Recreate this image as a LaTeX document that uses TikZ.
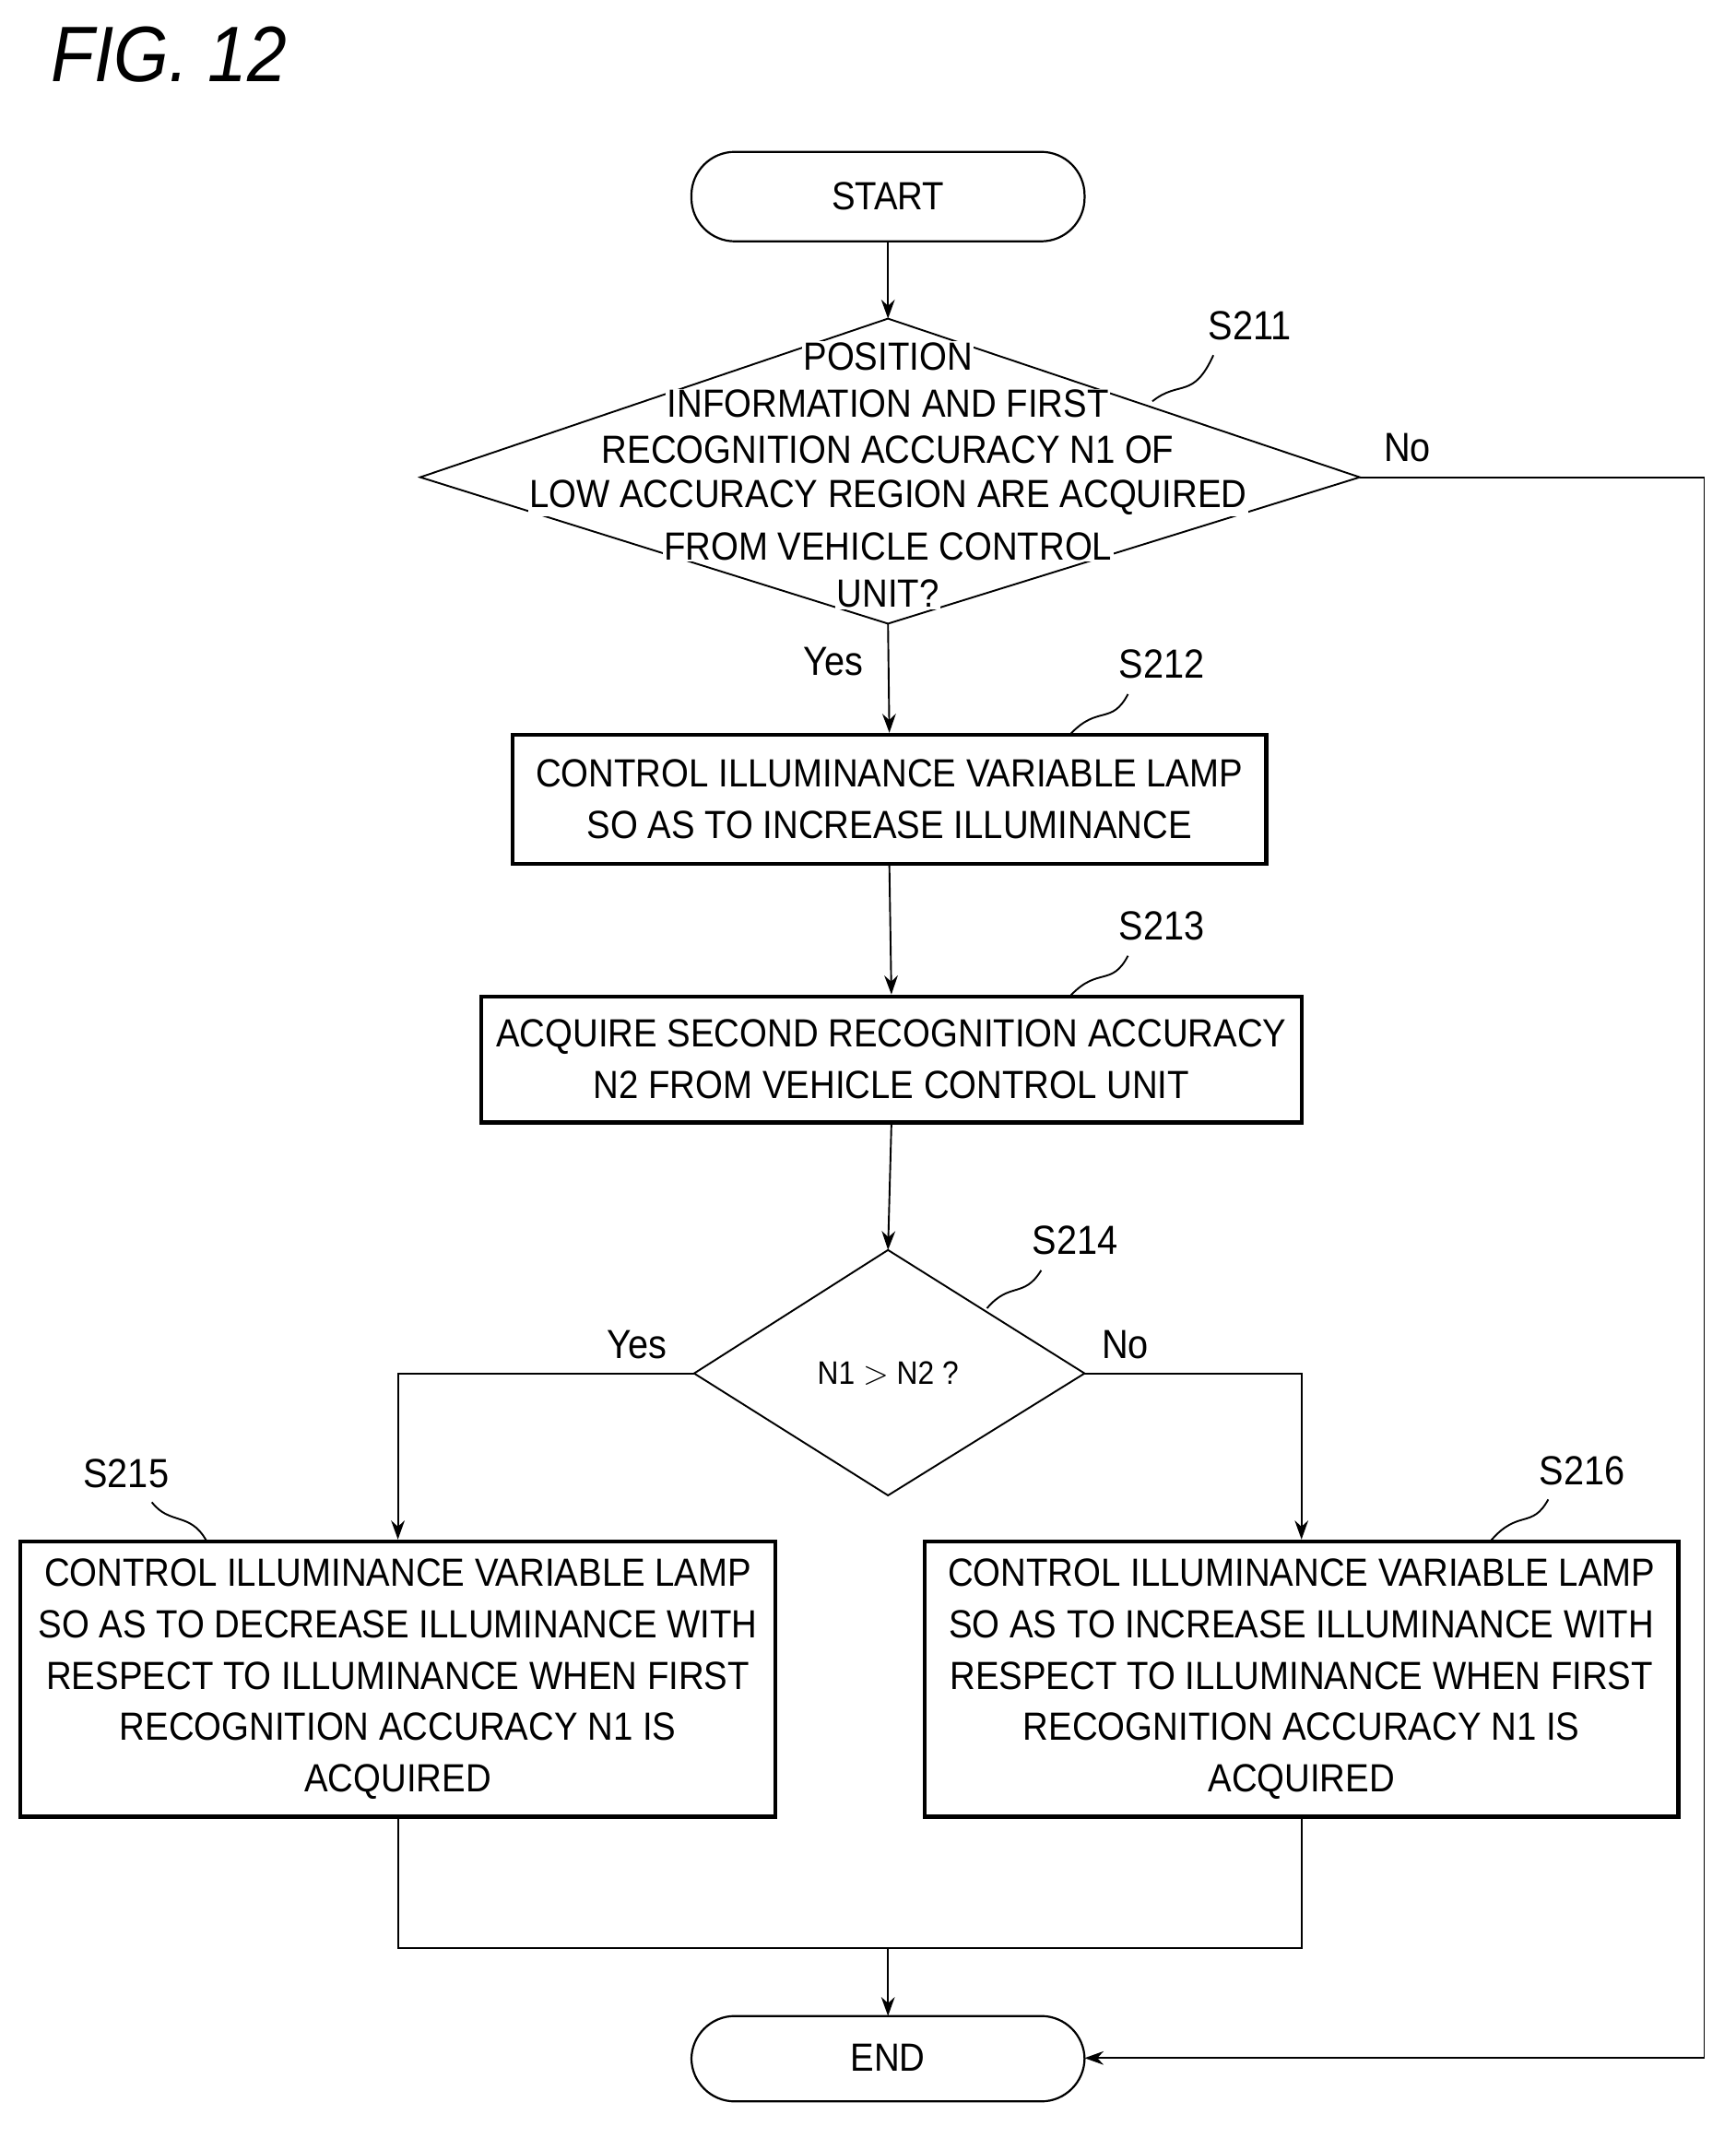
\documentclass[tikz,border=0pt]{standalone}
\usepackage{fontspec}
\setmainfont{Liberation Sans}[FakeStretch=0.9]
\usetikzlibrary{shapes.geometric,arrows.meta}
\begin{document}
\begin{tikzpicture}[x=1pt,y=-1pt,
  txt/.style={font=\fontsize{29}{38}\selectfont, align=center},
  box/.style={draw, line width=3pt, inner sep=0pt},
  term/.style={draw, line width=1.5pt, rounded corners=32pt},
  ln/.style={line width=1.3pt},
  arr/.style={ln,-{Stealth[length=14pt,width=10pt]}},
  lab/.style={font=\fontsize{30}{36}\selectfont}]
\useasboundingbox (0,0) rectangle (1280,1577);
\node[font=\fontsize{58}{66}\selectfont\itshape, anchor=west] (fig) at (34,40) {FIG. 12};
% START
\draw[term] (510,112) rectangle (800,178);
\node[txt] (start) at (655,145) {START};
\coordinate (startb) at (655,178);
% diamond 1
\coordinate (d1t) at (655,235); \coordinate (d1b) at (655,460);
\coordinate (d1l) at (310,352); \coordinate (d1r) at (1003,352);
\draw[ln] (d1t)--(d1r)--(d1b)--(d1l)--cycle;
\foreach \t/\y in {POSITION/263,INFORMATION AND FIRST/298,RECOGNITION ACCURACY N1 OF/332,LOW ACCURACY REGION ARE ACQUIRED/367,FROM VEHICLE CONTROL/403,UNIT?/438}
  \node[txt, fill=white, inner sep=1pt] at (655,\y) {\t};
\node[lab] (l211) at (922,240) {S211};
\draw[ln] (850,296) .. controls (870,280) and (880,295) .. (895,262);
\draw[arr] (startb)--(d1t);
% S212
\node[box, minimum width=556pt, minimum height=95pt, txt] (s212) at (656,589.5) {CONTROL ILLUMINANCE VARIABLE LAMP\\SO AS TO INCREASE ILLUMINANCE};
\node[lab] (l212) at (857,490) {S212};
\draw[ln] (790,541) .. controls (810,520) and (820,535) .. (832,512);
\draw[arr] (d1b)--(s212.north);
\node[lab] at (615,488) {Yes};
% S213
\node[box, minimum width=605pt, minimum height=93pt, txt] (s213) at (657.5,781.5) {ACQUIRE SECOND RECOGNITION ACCURACY\\N2 FROM VEHICLE CONTROL UNIT};
\node[lab] (l213) at (857,683) {S213};
\draw[ln] (790,734) .. controls (810,713) and (820,728) .. (832,705);
\draw[arr] (s212.south)--(s213.north);
% diamond 2
\coordinate (d2t) at (655,922); \coordinate (d2b) at (655,1103);
\coordinate (d2l) at (512,1013); \coordinate (d2r) at (800,1013);
\draw[ln] (d2t)--(d2r)--(d2b)--(d2l)--cycle;
\node[font=\fontsize{24}{30}\selectfont] (n12) at (655,1013) {N1 $>$ N2 ?};
\node[lab] (l214) at (793,915) {S214};
\draw[ln] (728,965) .. controls (745,945) and (755,958) .. (768,937);
\draw[arr] (s213.south)--(d2t);
% S215 / S216
\node[box, minimum width=557pt, minimum height=203pt, txt] (s215) at (293.5,1238.5) {CONTROL ILLUMINANCE VARIABLE LAMP\\SO AS TO DECREASE ILLUMINANCE WITH\\RESPECT TO ILLUMINANCE WHEN FIRST\\RECOGNITION ACCURACY N1 IS\\ACQUIRED};
\node[box, minimum width=556pt, minimum height=203pt, txt] (s216) at (960,1238.5) {CONTROL ILLUMINANCE VARIABLE LAMP\\SO AS TO INCREASE ILLUMINANCE WITH\\RESPECT TO ILLUMINANCE WHEN FIRST\\RECOGNITION ACCURACY N1 IS\\ACQUIRED};
\node[lab] (l215) at (93,1087) {S215};
\draw[ln] (152,1136) .. controls (140,1115) and (125,1125) .. (112,1108);
\node[lab] (l216) at (1167,1085) {S216};
\draw[ln] (1100,1136) .. controls (1120,1113) and (1130,1128) .. (1142,1106);
\draw[arr] (d2l) -| (s215.north);
\draw[arr] (d2r) -| (s216.north);
\node[lab] at (470,992) {Yes};
\node[lab] at (830,992) {No};
% END
\draw[term] (510,1487) rectangle (800,1550);
\node[txt] (endn) at (655,1518) {END};
\coordinate (endt) at (655,1487);
\coordinate (endr) at (800,1518);
\coordinate (j) at (655,1437);
\draw[ln] (s215.south) |- (j) -| (s216.south);
\draw[arr] (j)--(endt);
% No loop
\node[lab] at (1038,330) {No};
\draw[arr] (d1r) -- (1257,352) -- (1257,1518) -- (endr);
\end{tikzpicture}
\end{document}
